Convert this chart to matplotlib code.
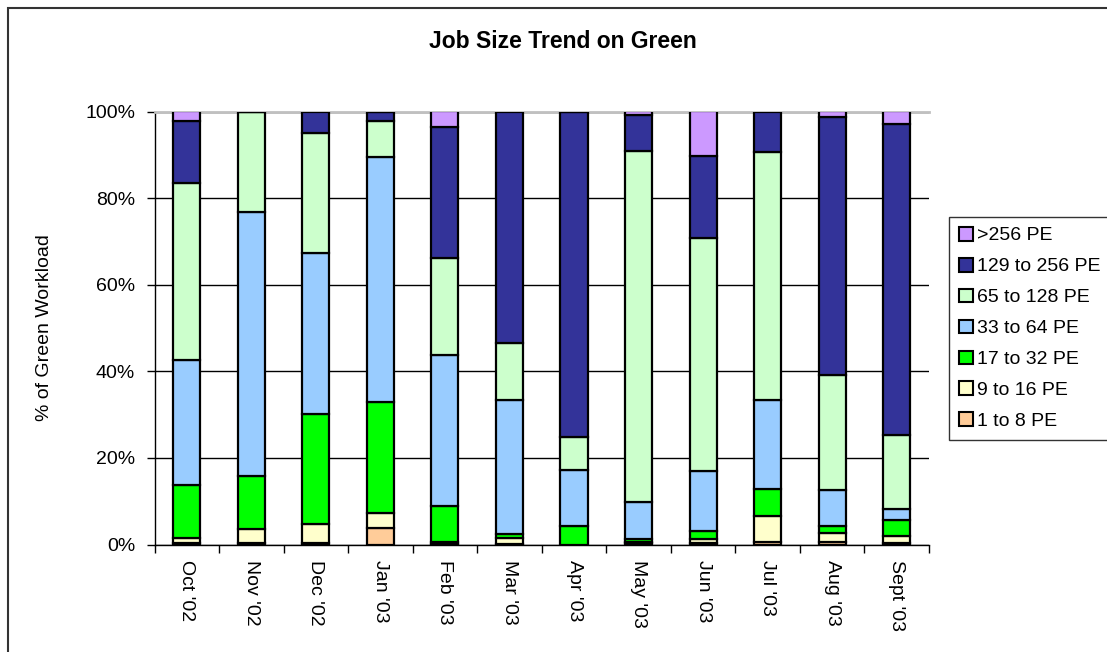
import numpy as np
import matplotlib
matplotlib.use('Agg')
import matplotlib.pyplot as plt
from matplotlib.patches import Rectangle
from matplotlib.ticker import FuncFormatter

plt.rcParams['font.family'] = ['Liberation Sans', 'DejaVu Sans']

# months on the x axis
months = ["Oct '02", "Nov '02", "Dec '02", "Jan '03", "Feb '03", "Mar '03",
          "Apr '03", "May '03", "Jun '03", "Jul '03", "Aug '03", "Sept '03"]

# share of the Green workload (%) per job size
pe_1_8 = [0.3, 0.4, 0.4, 3.8, 0.2, 0.2, 0.0, 0.3, 0.4, 0.5, 0.5, 0.4]
pe_9_16 = [1.1, 3.2, 4.4, 3.5, 0.4, 1.3, 0.0, 0.2, 0.8, 6.0, 2.2, 1.6]
pe_17_32 = [12.3, 12.3, 25.3, 25.6, 8.2, 1.0, 4.3, 0.7, 2.0, 6.4, 1.6, 3.6]
pe_33_64 = [28.8, 60.9, 37.3, 56.6, 34.9, 30.8, 13.0, 8.5, 13.8, 20.4, 8.2, 2.7]
pe_65_128 = [41.0, 23.2, 27.6, 8.3, 22.5, 13.3, 7.5, 81.1, 53.8, 57.3, 26.6, 16.9]
pe_129_256 = [14.4, 0.0, 5.0, 2.2, 30.2, 53.4, 75.2, 8.4, 19.0, 9.4, 59.7, 71.9]
pe_over_256 = [2.1, 0.0, 0.0, 0.0, 3.6, 0.0, 0.0, 0.8, 10.2, 0.0, 1.2, 2.9]

labels = ['1 to 8 PE', '9 to 16 PE', '17 to 32 PE', '33 to 64 PE',
          '65 to 128 PE', '129 to 256 PE', '>256 PE']
colors = ['#FFCC99', '#FFFFCC', '#00FF00', '#99CCFF', '#CCFFCC', '#333399', '#CC99FF']
series = [pe_1_8, pe_9_16, pe_17_32, pe_33_64, pe_65_128, pe_129_256, pe_over_256]

W, H = 1107, 652
fig = plt.figure(figsize=(W / 100, H / 100), dpi=100)

# chart border (runs off the right and bottom edge)
fig.patches.append(Rectangle((8 / W, -0.05), 1.1, (H - 8) / H + 0.05, transform=fig.transFigure,
                             fill=False, edgecolor='#333333', linewidth=1.5, zorder=0))

ax = fig.add_axes([154.5 / W, (H - 544.5) / H, (929 - 154.5) / W, 433 / H])

x = np.arange(len(months))
bottom = np.zeros(len(months))
handles = []
for vals, lab, col in zip(series, labels, colors):
    b = ax.bar(x, vals, width=0.42, bottom=bottom, color=col, edgecolor='black',
               linewidth=1.6, label=lab, zorder=3)
    handles.append(b)
    bottom += np.array(vals)

ax.set_xlim(-0.5, len(months) - 0.5)
ax.set_ylim(0, 100)
ax.set_yticks(np.arange(0, 101, 20))
ax.yaxis.set_major_formatter(FuncFormatter(lambda v, p: f'{v:.0f}%'))
# ticks sit between the bars, labels under the bars
ax.set_xticks(np.arange(-0.5, len(months), 1), minor=False)
ax.set_xticklabels([])
ax.set_xticks(x, minor=True)
ax.set_xticklabels(months, minor=True, rotation=270, fontsize=14)
ax.tick_params(axis='x', which='minor', length=0, pad=11)
ax.tick_params(axis='x', which='major', length=6, width=1, direction='out', color='black')
ax.tick_params(axis='y', length=6, width=1, direction='out', labelsize=14, pad=8)

ax.grid(axis='y', color='black', linewidth=1)
ax.set_axisbelow(True)
ax.spines['right'].set_visible(False)
ax.spines['top'].set_color('#C0C0C0')
ax.spines['top'].set_linewidth(2)
ax.spines['left'].set_linewidth(1)
ax.spines['bottom'].set_linewidth(1)

ax.set_ylabel('% of Green Workload', fontsize=14)
ax.yaxis.set_label_coords(-0.131, 0.5)

fig.text(563 / W, 1 - 42 / H, 'Job Size Trend on Green', ha='center', va='center',
         fontsize=16.5, fontweight='bold')

leg = fig.legend(handles[::-1], labels[::-1], loc='upper left',
                 bbox_to_anchor=(949 / W, 1 - 217 / H), fontsize=14,
                 frameon=True, fancybox=False, borderpad=0.5, labelspacing=0.68,
                 handlelength=0.72, handleheight=0.72, handletextpad=0.2,
                 borderaxespad=0)
leg.get_frame().set_edgecolor('black')
leg.get_frame().set_linewidth(1)
for p in leg.get_patches():
    p.set_linewidth(1.5)

fig.savefig('out.png', dpi=100)
